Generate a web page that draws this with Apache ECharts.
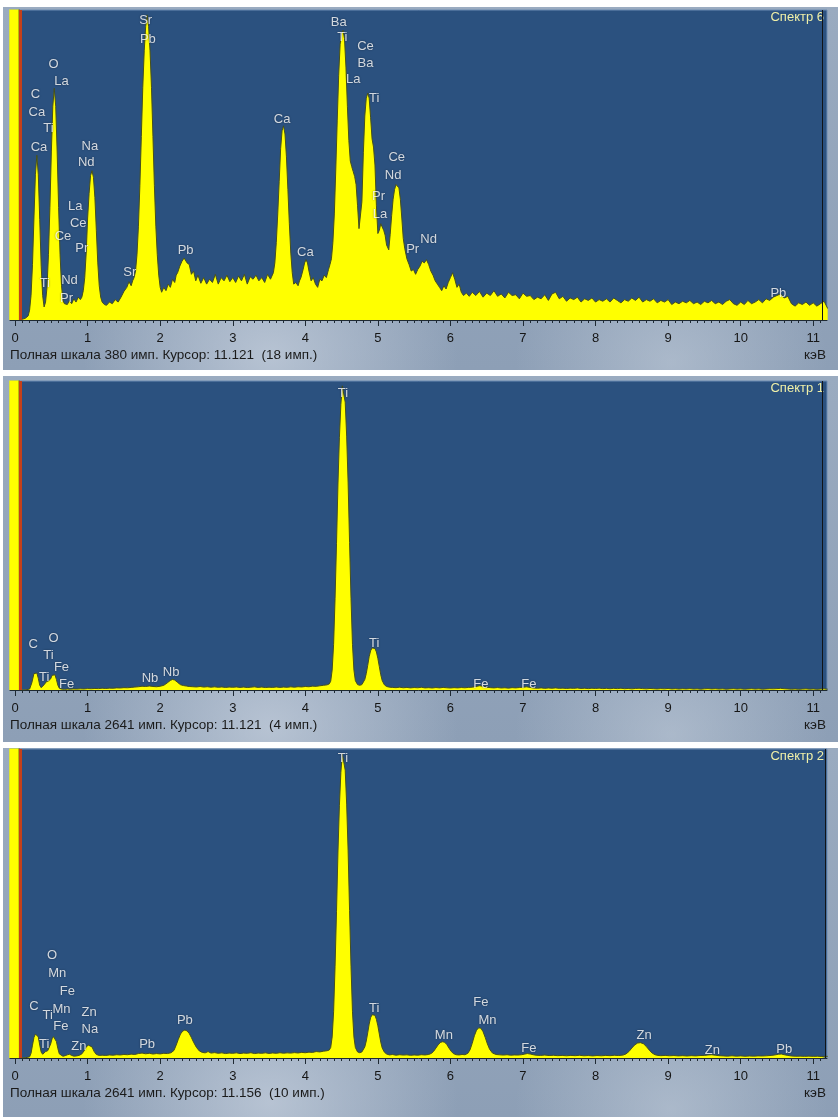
<!DOCTYPE html>
<html><head><meta charset="utf-8">
<script src="https://cdn.jsdelivr.net/npm/echarts@6/dist/echarts.min.js"></script>
<style>
html,body{margin:0;padding:0;background:#fff;width:838px;height:1117px;overflow:hidden}
.frame{position:absolute;left:3px;width:835px;
background:radial-gradient(ellipse 30% 55% at 32% 96%, rgba(205,214,226,0.65), rgba(205,214,226,0) 75%),
radial-gradient(ellipse 25% 50% at 80% 98%, rgba(200,210,222,0.5), rgba(200,210,222,0) 75%),
linear-gradient(180deg,#9aabc0 0%,#8d9fb6 100%);}
#chart{position:absolute;left:0;top:0;width:838px;height:1117px}
</style></head><body>
<div class="frame" style="top:7px;height:363px"></div>
<div class="frame" style="top:376px;height:366px"></div>
<div class="frame" style="top:748px;height:369px"></div>
<div id="chart"></div>
<script>
// ---- panel meta ----
const spectrumNames = ['Спектр 6', 'Спектр 1', 'Спектр 2'];
const fullScale = [380, 2641, 2641];
const cursorKeV = [11.121, 11.121, 11.156];
const cursorCounts = [18, 4, 10];
const tickLabels = [0, 1, 2, 3, 4, 5, 6, 7, 8, 9, 10, 11];
const unitLabel = 'кэВ';
const markerKeV = 0.075;

// ---- spectra: [energy keV, counts] ----
const spec6 = [[-0.08,420],[0.055,420],[0.06,0],[0.14,2],[0.18,5],[0.20,12],[0.22,30],[0.24,68],[0.26,125],[0.28,178],[0.30,202],[0.32,178],[0.34,123],[0.36,66],[0.38,30],[0.40,16],[0.42,22],[0.44,40],[0.46,80],[0.48,138],[0.50,206],[0.52,262],[0.54,284],[0.56,262],[0.58,206],[0.60,138],[0.62,80],[0.64,42],[0.66,24],[0.68,20],[0.70,22],[0.72,19],[0.75,24],[0.78,20],[0.81,26],[0.84,22],[0.87,28],[0.90,25],[0.92,28],[0.94,36],[0.96,52],[0.98,82],[1.00,125],[1.02,155],[1.04,177],[1.06,183],[1.08,175],[1.10,150],[1.12,110],[1.14,70],[1.16,42],[1.18,28],[1.20,22],[1.23,19],[1.26,18],[1.30,22],[1.34,20],[1.38,25],[1.42,22],[1.46,28],[1.50,35],[1.54,40],[1.57,47],[1.60,42],[1.62,48],[1.64,52],[1.66,60],[1.68,80],[1.70,115],[1.72,165],[1.74,225],[1.76,285],[1.78,330],[1.80,360],[1.82,374],[1.84,360],[1.86,330],[1.88,285],[1.90,225],[1.92,165],[1.94,115],[1.96,80],[1.98,55],[2.00,40],[2.02,34],[2.05,40],[2.08,36],[2.11,44],[2.14,40],[2.17,50],[2.20,46],[2.22,55],[2.24,58],[2.27,66],[2.30,72],[2.33,76],[2.35,78],[2.37,70],[2.40,68],[2.43,56],[2.46,60],[2.49,48],[2.52,55],[2.56,45],[2.60,52],[2.64,44],[2.68,50],[2.72,46],[2.76,56],[2.80,44],[2.84,52],[2.88,48],[2.92,55],[2.96,47],[3.00,52],[3.04,46],[3.08,54],[3.12,48],[3.16,56],[3.20,44],[3.24,53],[3.28,50],[3.32,55],[3.36,48],[3.40,52],[3.44,46],[3.48,56],[3.52,50],[3.56,58],[3.58,70],[3.60,95],[3.62,130],[3.64,170],[3.66,210],[3.68,232],[3.70,238],[3.72,228],[3.74,200],[3.76,160],[3.78,118],[3.80,82],[3.82,58],[3.84,44],[3.87,46],[3.90,42],[3.92,48],[3.94,52],[3.97,62],[3.99,70],[4.01,74],[4.03,70],[4.05,60],[4.08,48],[4.11,52],[4.14,44],[4.17,40],[4.20,50],[4.23,48],[4.26,55],[4.29,52],[4.32,62],[4.34,68],[4.36,75],[4.38,95],[4.40,130],[4.42,185],[4.44,245],[4.46,300],[4.48,338],[4.50,352],[4.52,355],[4.54,345],[4.56,310],[4.58,262],[4.60,220],[4.62,195],[4.64,188],[4.66,182],[4.68,176],[4.70,166],[4.72,140],[4.74,112],[4.76,110],[4.78,145],[4.80,205],[4.82,250],[4.84,272],[4.86,278],[4.88,272],[4.90,248],[4.92,222],[4.94,212],[4.96,190],[4.98,140],[5.00,106],[5.02,110],[5.04,118],[5.06,116],[5.08,110],[5.10,104],[5.12,92],[5.15,86],[5.17,105],[5.19,128],[5.21,148],[5.23,160],[5.25,166],[5.27,168],[5.29,162],[5.31,148],[5.33,125],[5.35,100],[5.37,88],[5.40,75],[5.43,68],[5.46,60],[5.49,62],[5.52,56],[5.55,62],[5.58,66],[5.61,72],[5.64,70],[5.67,74],[5.70,68],[5.73,60],[5.76,55],[5.79,48],[5.82,44],[5.85,40],[5.88,36],[5.91,42],[5.94,38],[5.97,46],[6.00,52],[6.03,58],[6.06,50],[6.09,40],[6.12,44],[6.15,34],[6.18,30],[6.22,33],[6.26,29],[6.30,34],[6.35,30],[6.40,35],[6.45,28],[6.50,33],[6.55,30],[6.60,36],[6.65,29],[6.70,32],[6.75,27],[6.80,34],[6.85,30],[6.90,31],[6.95,26],[7.00,33],[7.05,29],[7.10,30],[7.15,25],[7.20,28],[7.25,26],[7.30,31],[7.35,24],[7.40,32],[7.45,34],[7.50,26],[7.55,29],[7.60,23],[7.65,27],[7.70,25],[7.75,28],[7.80,22],[7.85,26],[7.90,24],[7.95,27],[8.00,22],[8.05,25],[8.10,23],[8.15,26],[8.20,22],[8.25,27],[8.30,24],[8.35,21],[8.40,25],[8.45,23],[8.50,27],[8.55,24],[8.60,28],[8.65,22],[8.70,25],[8.75,23],[8.80,26],[8.85,21],[8.90,24],[8.95,22],[9.00,25],[9.05,19],[9.10,22],[9.15,20],[9.20,23],[9.25,21],[9.30,24],[9.35,20],[9.40,22],[9.45,19],[9.50,23],[9.55,21],[9.60,24],[9.65,20],[9.70,22],[9.75,19],[9.80,23],[9.85,25],[9.90,20],[9.95,18],[10.00,22],[10.05,19],[10.10,24],[10.15,20],[10.20,22],[10.25,25],[10.30,21],[10.35,26],[10.40,24],[10.45,28],[10.50,30],[10.55,32],[10.60,27],[10.65,29],[10.70,20],[10.75,17],[10.80,21],[10.85,19],[10.90,22],[10.95,18],[11.00,21],[11.05,17],[11.10,20],[11.15,23],[11.20,14]];

const spec1 = [[-0.08,3000],[0.055,3000],[0.06,0],[0.15,2],[0.20,8],[0.23,60],[0.26,140],[0.28,151],[0.30,145],[0.32,100],[0.34,40],[0.36,20],[0.38,22],[0.40,45],[0.43,70],[0.46,78],[0.49,95],[0.51,125],[0.53,137],[0.55,130],[0.57,90],[0.59,40],[0.61,15],[0.64,8],[0.68,6],[0.72,8],[0.76,7],[0.80,9],[0.85,8],[0.90,10],[0.95,9],[1.00,12],[1.05,11],[1.10,13],[1.15,12],[1.20,15],[1.25,13],[1.30,16],[1.35,15],[1.40,18],[1.45,17],[1.50,20],[1.55,19],[1.60,22],[1.65,25],[1.70,28],[1.75,32],[1.80,30],[1.85,34],[1.90,30],[1.95,28],[2.00,32],[2.05,40],[2.10,62],[2.14,82],[2.17,90],[2.20,85],[2.24,65],[2.28,45],[2.32,38],[2.36,34],[2.40,30],[2.45,28],[2.50,26],[2.55,30],[2.60,25],[2.65,28],[2.70,24],[2.75,27],[2.80,23],[2.85,26],[2.90,22],[2.95,25],[3.00,23],[3.05,26],[3.10,22],[3.15,25],[3.20,21],[3.25,24],[3.30,27],[3.35,22],[3.40,25],[3.45,21],[3.50,24],[3.55,22],[3.60,26],[3.65,22],[3.70,25],[3.75,23],[3.80,27],[3.85,24],[3.90,28],[3.95,26],[4.00,30],[4.05,28],[4.10,33],[4.15,31],[4.20,36],[4.25,40],[4.30,44],[4.33,52],[4.35,75],[4.37,170],[4.39,390],[4.41,780],[4.43,1250],[4.45,1760],[4.47,2160],[4.49,2440],[4.51,2600],[4.53,2610],[4.55,2460],[4.57,2170],[4.59,1770],[4.61,1260],[4.63,780],[4.65,390],[4.67,170],[4.69,80],[4.72,46],[4.75,40],[4.78,46],[4.80,60],[4.82,90],[4.84,140],[4.86,210],[4.88,285],[4.90,335],[4.92,360],[4.94,365],[4.96,355],[4.98,325],[5.00,270],[5.02,200],[5.04,130],[5.06,80],[5.09,44],[5.12,30],[5.16,24],[5.20,22],[5.25,20],[5.30,24],[5.35,19],[5.40,22],[5.45,18],[5.50,21],[5.55,19],[5.60,23],[5.65,18],[5.70,20],[5.75,17],[5.80,21],[5.85,18],[5.90,22],[5.95,19],[6.00,17],[6.05,20],[6.10,18],[6.15,21],[6.20,19],[6.25,22],[6.30,24],[6.35,30],[6.40,36],[6.45,32],[6.50,24],[6.55,20],[6.60,18],[6.65,21],[6.70,17],[6.75,19],[6.80,16],[6.85,20],[6.90,18],[6.95,21],[7.00,24],[7.05,27],[7.10,22],[7.15,17],[7.20,15],[7.25,18],[7.30,14],[7.35,17],[7.40,15],[7.45,18],[7.50,14],[7.55,16],[7.60,13],[7.65,16],[7.70,14],[7.75,17],[7.80,13],[7.85,15],[7.90,12],[7.95,15],[8.00,13],[8.05,16],[8.10,12],[8.15,14],[8.20,11],[8.25,14],[8.30,12],[8.35,15],[8.40,11],[8.45,13],[8.50,10],[8.55,13],[8.60,15],[8.65,12],[8.70,10],[8.75,13],[8.80,11],[8.85,9],[8.90,12],[8.95,10],[9.00,13],[9.05,9],[9.10,11],[9.15,8],[9.20,11],[9.25,9],[9.30,12],[9.35,8],[9.40,10],[9.45,7],[9.50,10],[9.55,12],[9.60,9],[9.65,11],[9.70,8],[9.75,10],[9.80,7],[9.85,9],[9.90,11],[9.95,8],[10.00,10],[10.05,7],[10.10,9],[10.15,11],[10.20,8],[10.25,10],[10.30,7],[10.35,9],[10.40,11],[10.45,10],[10.50,12],[10.55,14],[10.60,11],[10.65,9],[10.70,7],[10.75,9],[10.80,6],[10.85,8],[10.90,10],[10.95,7],[11.00,9],[11.05,6],[11.10,8],[11.15,10],[11.20,7]];

const spec2 = [[-0.08,3000],[0.055,3000],[0.06,0],[0.15,3],[0.20,10],[0.22,40],[0.24,110],[0.26,175],[0.28,205],[0.30,211],[0.32,180],[0.34,110],[0.36,50],[0.38,32],[0.40,40],[0.42,55],[0.45,62],[0.47,75],[0.49,120],[0.51,165],[0.53,183],[0.55,180],[0.57,140],[0.59,80],[0.61,35],[0.63,18],[0.66,15],[0.69,20],[0.72,27],[0.75,32],[0.78,22],[0.81,16],[0.85,18],[0.89,24],[0.92,35],[0.95,60],[0.98,95],[1.01,110],[1.03,111],[1.06,95],[1.09,55],[1.12,30],[1.16,22],[1.20,24],[1.25,22],[1.30,26],[1.35,24],[1.40,28],[1.45,26],[1.50,30],[1.55,28],[1.60,33],[1.65,30],[1.70,38],[1.75,42],[1.80,36],[1.85,40],[1.90,34],[1.95,38],[2.00,35],[2.05,40],[2.10,38],[2.15,45],[2.19,65],[2.22,110],[2.25,160],[2.28,205],[2.31,230],[2.34,239],[2.37,232],[2.40,210],[2.43,175],[2.46,135],[2.50,90],[2.54,60],[2.58,48],[2.62,44],[2.66,55],[2.70,42],[2.75,46],[2.80,40],[2.85,44],[2.90,38],[2.95,42],[3.00,40],[3.05,44],[3.10,38],[3.15,42],[3.20,40],[3.25,45],[3.30,38],[3.35,42],[3.40,40],[3.45,44],[3.50,39],[3.55,43],[3.60,40],[3.65,45],[3.70,41],[3.75,44],[3.80,42],[3.85,46],[3.90,43],[3.95,48],[4.00,45],[4.05,50],[4.10,48],[4.15,55],[4.20,52],[4.25,58],[4.30,62],[4.33,68],[4.35,90],[4.37,180],[4.39,395],[4.41,780],[4.43,1250],[4.45,1760],[4.47,2160],[4.49,2440],[4.51,2600],[4.53,2610],[4.55,2460],[4.57,2170],[4.59,1770],[4.61,1260],[4.63,780],[4.65,395],[4.67,180],[4.69,90],[4.72,52],[4.75,45],[4.78,52],[4.80,66],[4.82,95],[4.84,145],[4.86,215],[4.88,290],[4.90,345],[4.92,370],[4.94,376],[4.96,365],[4.98,330],[5.00,275],[5.02,205],[5.04,135],[5.06,85],[5.09,50],[5.12,34],[5.16,26],[5.20,30],[5.25,24],[5.30,28],[5.35,25],[5.40,27],[5.45,23],[5.50,26],[5.55,24],[5.60,28],[5.65,26],[5.70,30],[5.74,40],[5.77,58],[5.80,85],[5.83,112],[5.86,132],[5.89,139],[5.92,135],[5.95,115],[5.98,85],[6.01,58],[6.04,38],[6.08,28],[6.12,26],[6.16,30],[6.20,28],[6.24,40],[6.27,70],[6.30,125],[6.33,190],[6.36,238],[6.39,258],[6.42,255],[6.45,225],[6.48,175],[6.51,120],[6.54,75],[6.58,42],[6.63,30],[6.68,27],[6.73,25],[6.78,28],[6.83,24],[6.88,26],[6.93,25],[6.98,28],[7.02,33],[7.06,38],[7.10,34],[7.14,28],[7.18,24],[7.24,22],[7.30,25],[7.36,21],[7.42,23],[7.48,20],[7.54,22],[7.60,19],[7.66,22],[7.72,20],[7.78,23],[7.84,19],[7.90,21],[7.96,18],[8.02,21],[8.08,19],[8.14,22],[8.20,20],[8.26,23],[8.32,21],[8.38,25],[8.42,35],[8.46,55],[8.50,85],[8.54,112],[8.58,128],[8.62,131],[8.66,122],[8.70,98],[8.74,68],[8.78,42],[8.82,28],[8.86,22],[8.90,20],[8.96,22],[9.02,19],[9.08,21],[9.14,18],[9.20,20],[9.26,17],[9.32,20],[9.38,18],[9.44,21],[9.50,22],[9.55,26],[9.60,28],[9.65,24],[9.70,20],[9.76,18],[9.82,16],[9.88,19],[9.94,16],[10.00,18],[10.06,15],[10.12,17],[10.18,16],[10.24,18],[10.30,17],[10.36,19],[10.42,22],[10.47,26],[10.52,32],[10.56,34],[10.60,28],[10.65,22],[10.70,17],[10.76,15],[10.82,16],[10.88,14],[10.94,16],[11.00,14],[11.06,15],[11.12,13],[11.20,14]];

// ---- element labels: [energy keV, counts, text] ----
const labels6 = [[0.28,277,'C'],[0.30,255,'Ca'],[0.46,235,'Ti'],[0.33,212,'Ca'],[0.53,313,'O'],[0.64,292,'La'],[1.03,213,'Na'],[0.98,193,'Nd'],[0.83,139,'La'],[0.87,118,'Ce'],[0.66,102,'Ce'],[0.92,88,'Pr'],[0.41,45,'Ti'],[0.75,48,'Nd'],[0.71,27,'Pr'],[1.58,58,'Sr'],[1.80,367,'Sr'],[1.83,344,'Pb'],[2.35,85,'Pb'],[3.68,246,'Ca'],[4.00,83,'Ca'],[4.46,365,'Ba'],[4.51,346,'Ti'],[4.83,335,'Ce'],[4.83,314,'Ba'],[4.66,295,'La'],[4.95,272,'Ti'],[5.26,199,'Ce'],[5.21,177,'Nd'],[5.01,151,'Pr'],[5.03,130,'La'],[5.70,99,'Nd'],[5.48,86,'Pr'],[10.52,32,'Pb']];
const labels1 = [[0.25,393,'C'],[0.53,444,'O'],[0.46,299,'Ti'],[0.64,197,'Fe'],[0.40,111,'Ti'],[0.71,51,'Fe'],[1.86,103,'Nb'],[2.15,154,'Nb'],[4.52,2538,'Ti'],[4.95,397,'Ti'],[6.42,47,'Fe'],[7.08,47,'Fe']];
const labels2 = [[0.51,875,'O'],[0.58,720,'Mn'],[0.72,566,'Fe'],[0.26,437,'C'],[0.45,360,'Ti'],[0.64,412,'Mn'],[0.63,266,'Fe'],[1.02,386,'Zn'],[1.03,240,'Na'],[0.40,120,'Ti'],[0.88,103,'Zn'],[1.82,120,'Pb'],[2.34,317,'Pb'],[4.52,2564,'Ti'],[4.95,424,'Ti'],[5.91,193,'Mn'],[6.42,476,'Fe'],[6.51,317,'Mn'],[7.08,79,'Fe'],[8.67,189,'Zn'],[9.61,64,'Zn'],[10.60,74,'Pb']];

const spectra = [spec6, spec1, spec2];
const labelSets = [labels6, labels1, labels2];

// ---- layout ----
const gridTops = [10, 381, 749];
const gridHeights = [310, 309, 309];
const xMin = -0.07, xMax = 11.19;
const FONT = 'Liberation Sans, Arial, sans-serif';

const minorTicks = [];
tickLabels.forEach(k => { for (let j = 0; j < 10; j++) { const v = Math.round((k + j / 10) * 10) / 10; if (v <= xMax) minorTicks.push(v); } });

const grids = [], xAxes = [], yAxes = [], series = [], graphics = [];
for (let i = 0; i < 3; i++) {
  grids.push({ left: 10, top: gridTops[i], width: 817, height: gridHeights[i], show: true,
    backgroundColor: '#2b517f', borderColor: '#6d8cb3', borderWidth: 1 });
  xAxes.push({ type: 'value', gridIndex: i, min: xMin, max: xMax, position: 'bottom',
    axisLine: { show: true, onZero: false, lineStyle: { color: '#1f2a33', width: 1 } },
    axisTick: { show: true, customValues: minorTicks, length: 3, lineStyle: { color: '#1f2a33' } },
    axisLabel: { show: true, customValues: tickLabels, margin: 12, color: '#161616', fontSize: 13, fontFamily: FONT, formatter: v => String(v) },
    splitLine: { show: false } });
  xAxes.push({ type: 'value', gridIndex: i, min: xMin, max: xMax, position: 'bottom',
    axisLine: { show: false },
    axisTick: { show: true, customValues: tickLabels, length: 6, lineStyle: { color: '#1f2a33' } },
    axisLabel: { show: false }, splitLine: { show: false } });
  yAxes.push({ type: 'value', gridIndex: i, min: 0, max: fullScale[i], show: false });

  series.push({ type: 'line', xAxisIndex: 2 * i, yAxisIndex: i, data: spectra[i],
    symbol: 'none', showSymbol: false, clip: true, silent: true, animation: false,
    lineStyle: { color: '#46501c', width: 1 },
    areaStyle: { color: '#ffff00', opacity: 1 },
    markLine: { symbol: 'none', silent: true, animation: false, label: { show: false },
      data: [
        { xAxis: markerKeV, lineStyle: { color: '#c4401a', width: 3, type: 'solid' } },
        { xAxis: cursorKeV[i], lineStyle: { color: '#101418', width: 1, type: 'solid' } }
      ] } });
  series.push({ type: 'scatter', xAxisIndex: 2 * i, yAxisIndex: i, silent: true, animation: false,
    symbolSize: 1, itemStyle: { color: 'rgba(0,0,0,0)' }, z: 5,
    data: labelSets[i].map(l => ({ value: [l[0], l[1]], name: l[2] })),
    label: { show: true, position: 'inside', formatter: '{b}', color: '#ffffff', fontSize: 13, fontFamily: FONT,
      textShadowColor: 'rgba(0,0,0,0.55)', textShadowBlur: 2 } });

  const base = gridTops[i] + gridHeights[i];
  graphics.push({ type: 'text', right: 14, top: gridTops[i] + 1,
    style: { text: spectrumNames[i], fill: '#f0f0a8', font: '13px ' + FONT } });
  graphics.push({ type: 'text', left: 10, top: base + 28,
    style: { text: 'Полная шкала ' + fullScale[i] + ' имп. Курсор: ' + cursorKeV[i].toFixed(3) + '  (' + cursorCounts[i] + ' имп.)',
      fill: '#1a1a1a', font: '13.5px ' + FONT } });
  graphics.push({ type: 'text', right: 12, top: base + 28,
    style: { text: unitLabel, fill: '#1a1a1a', font: '13.5px ' + FONT } });
}

const chart = echarts.init(document.getElementById('chart'), null, { renderer: 'canvas', width: 838, height: 1117 });
chart.setOption({ animation: false, backgroundColor: 'transparent', grid: grids, xAxis: xAxes, yAxis: yAxes, series: series, graphic: graphics });
</script>
</body></html>
